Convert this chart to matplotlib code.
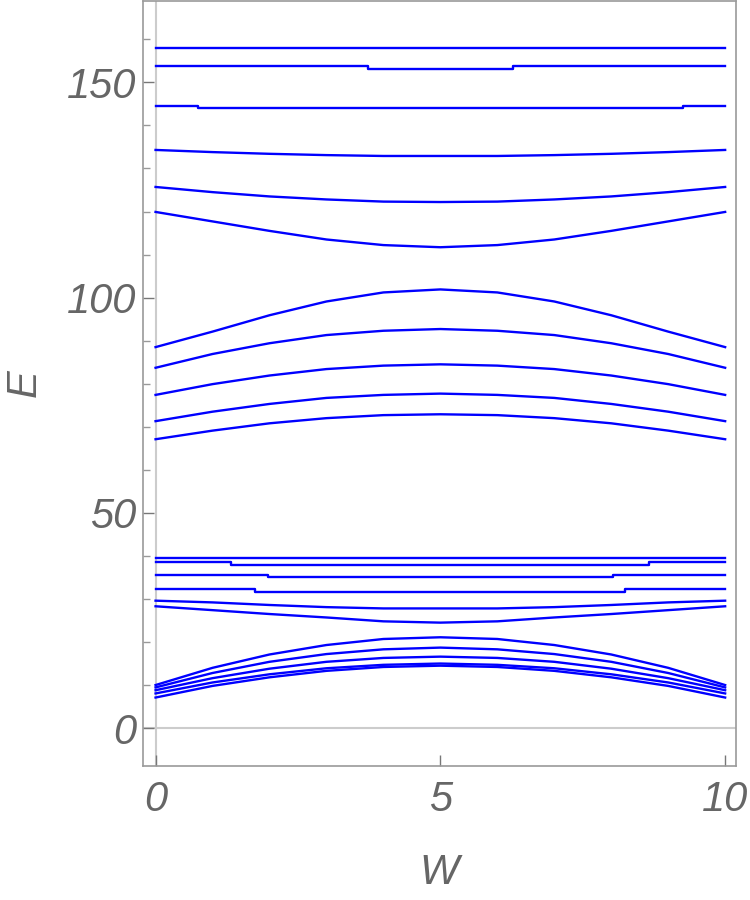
import matplotlib
matplotlib.use("Agg")
import matplotlib.pyplot as plt
import numpy as np

# ---- data ----
W = [0, 1, 2, 3, 4, 5, 6, 7, 8, 9, 10]

# curved levels (values at W = 0..10)
low_1 = [10.0, 14.0, 17.1, 19.3, 20.7, 21.1, 20.7, 19.3, 17.1, 14.0, 10.0]
low_2 = [9.45, 12.8, 15.4, 17.2, 18.3, 18.7, 18.3, 17.2, 15.4, 12.8, 9.45]
low_3 = [8.8, 11.6, 13.8, 15.4, 16.3, 16.6, 16.3, 15.4, 13.8, 11.6, 8.8]
low_4 = [8.05, 10.6, 12.5, 13.9, 14.7, 15.0, 14.7, 13.9, 12.5, 10.6, 8.05]
low_5 = [7.1, 9.8, 11.8, 13.3, 14.2, 14.5, 14.2, 13.3, 11.8, 9.8, 7.1]
mid_a = [29.6, 29.2, 28.6, 28.1, 27.8, 27.8, 27.8, 28.1, 28.6, 29.2, 29.6]
mid_b = [28.3, 27.4, 26.5, 25.7, 24.8, 24.5, 24.8, 25.7, 26.5, 27.4, 28.3]
up_1 = [67.1, 69.1, 70.8, 72.0, 72.7, 72.9, 72.7, 72.0, 70.8, 69.1, 67.1]
up_2 = [71.3, 73.5, 75.3, 76.7, 77.4, 77.7, 77.4, 76.7, 75.3, 73.5, 71.3]
up_3 = [77.4, 79.9, 81.9, 83.4, 84.2, 84.5, 84.2, 83.4, 81.9, 79.9, 77.4]
up_4 = [83.7, 86.9, 89.4, 91.3, 92.3, 92.7, 92.3, 91.3, 89.4, 86.9, 83.7]
up_5 = [88.5, 92.1, 95.9, 99.1, 101.2, 101.9, 101.2, 99.1, 95.9, 92.1, 88.5]
top_1 = [119.9, 117.7, 115.5, 113.5, 112.2, 111.7, 112.2, 113.5, 115.5, 117.7, 119.9]
top_2 = [125.7, 124.5, 123.5, 122.8, 122.3, 122.2, 122.3, 122.8, 123.5, 124.5, 125.7]
top_3 = [134.3, 133.8, 133.4, 133.1, 132.9, 132.9, 132.9, 133.1, 133.4, 133.8, 134.3]

# nearly flat levels with a single small step (breakpoints in W, step-post values)
flat_1_W = [0, 10]
flat_1_E = [39.4, 39.4]
flat_2_W = [0, 1.33, 8.67, 10]
flat_2_E = [38.5, 38.0, 38.5, 38.5]
flat_3_W = [0, 1.97, 8.03, 10]
flat_3_E = [35.5, 35.0, 35.5, 35.5]
flat_4_W = [0, 1.75, 8.25, 10]
flat_4_E = [32.2, 31.7, 32.2, 32.2]
flat_5_W = [0, 0.74, 9.26, 10]
flat_5_E = [144.5, 144.0, 144.5, 144.5]
flat_6_W = [0, 3.73, 6.27, 10]
flat_6_E = [153.7, 153.2, 153.7, 153.7]
flat_7_W = [0, 10]
flat_7_E = [158.0, 158.0]

x_ticks = [0, 5, 10]
y_ticks = [0, 50, 100, 150]

# ---- drawing ----
fig = plt.figure(figsize=(7.5, 9), dpi=100)
ax = fig.add_axes([0.1907, 0.1489, 0.7906, 0.85])

blue = (0.0, 0.0, 1.0)
lw = 1.7
for curve in [low_1, low_2, low_3, low_4, low_5, mid_a, mid_b,
              up_1, up_2, up_3, up_4, up_5, top_1, top_2, top_3]:
    ax.plot(W, curve, color=blue, lw=lw, zorder=3, solid_joinstyle="round")

for ws, es in [(flat_1_W, flat_1_E), (flat_2_W, flat_2_E), (flat_3_W, flat_3_E),
               (flat_4_W, flat_4_E), (flat_5_W, flat_5_E), (flat_6_W, flat_6_E),
               (flat_7_W, flat_7_E)]:
    ax.plot(ws, es, color=blue, lw=lw, drawstyle="steps-post", zorder=3)

ax.set_xlim(-0.22, 10.19)
ax.set_ylim(-8.8, 168.9)

# light gray axes lines through origin
ax.axhline(0, color="#cccccc", lw=1.5, zorder=1)
ax.axvline(0, color="#cccccc", lw=1.5, zorder=1)

for s in ax.spines.values():
    s.set_color("#9a9a9a")
    s.set_linewidth(1.2)

tick_font = dict(family=["Liberation Sans", "DejaVu Sans"], style="italic",
                 size=30, color="#666666")
ax.set_xticks(x_ticks)
ax.set_xticklabels([str(t) for t in x_ticks], **tick_font)
ax.set_yticks(y_ticks)
ax.set_yticklabels([str(t) for t in y_ticks], **tick_font)
ax.set_yticks(np.arange(0, 170, 10), minor=True)
ax.tick_params(axis="both", which="major", direction="in", length=8,
               width=1.0, color="#777777")
ax.tick_params(axis="y", which="minor", direction="in", length=5,
               width=1.0, color="#999999")
ax.tick_params(axis="x", which="major", pad=10)
ax.tick_params(axis="y", which="major", pad=5)

ax.set_xlabel("W", **tick_font, labelpad=24)
ax.set_ylabel("E", **tick_font, labelpad=16)

fig.savefig("out.png", dpi=100)
